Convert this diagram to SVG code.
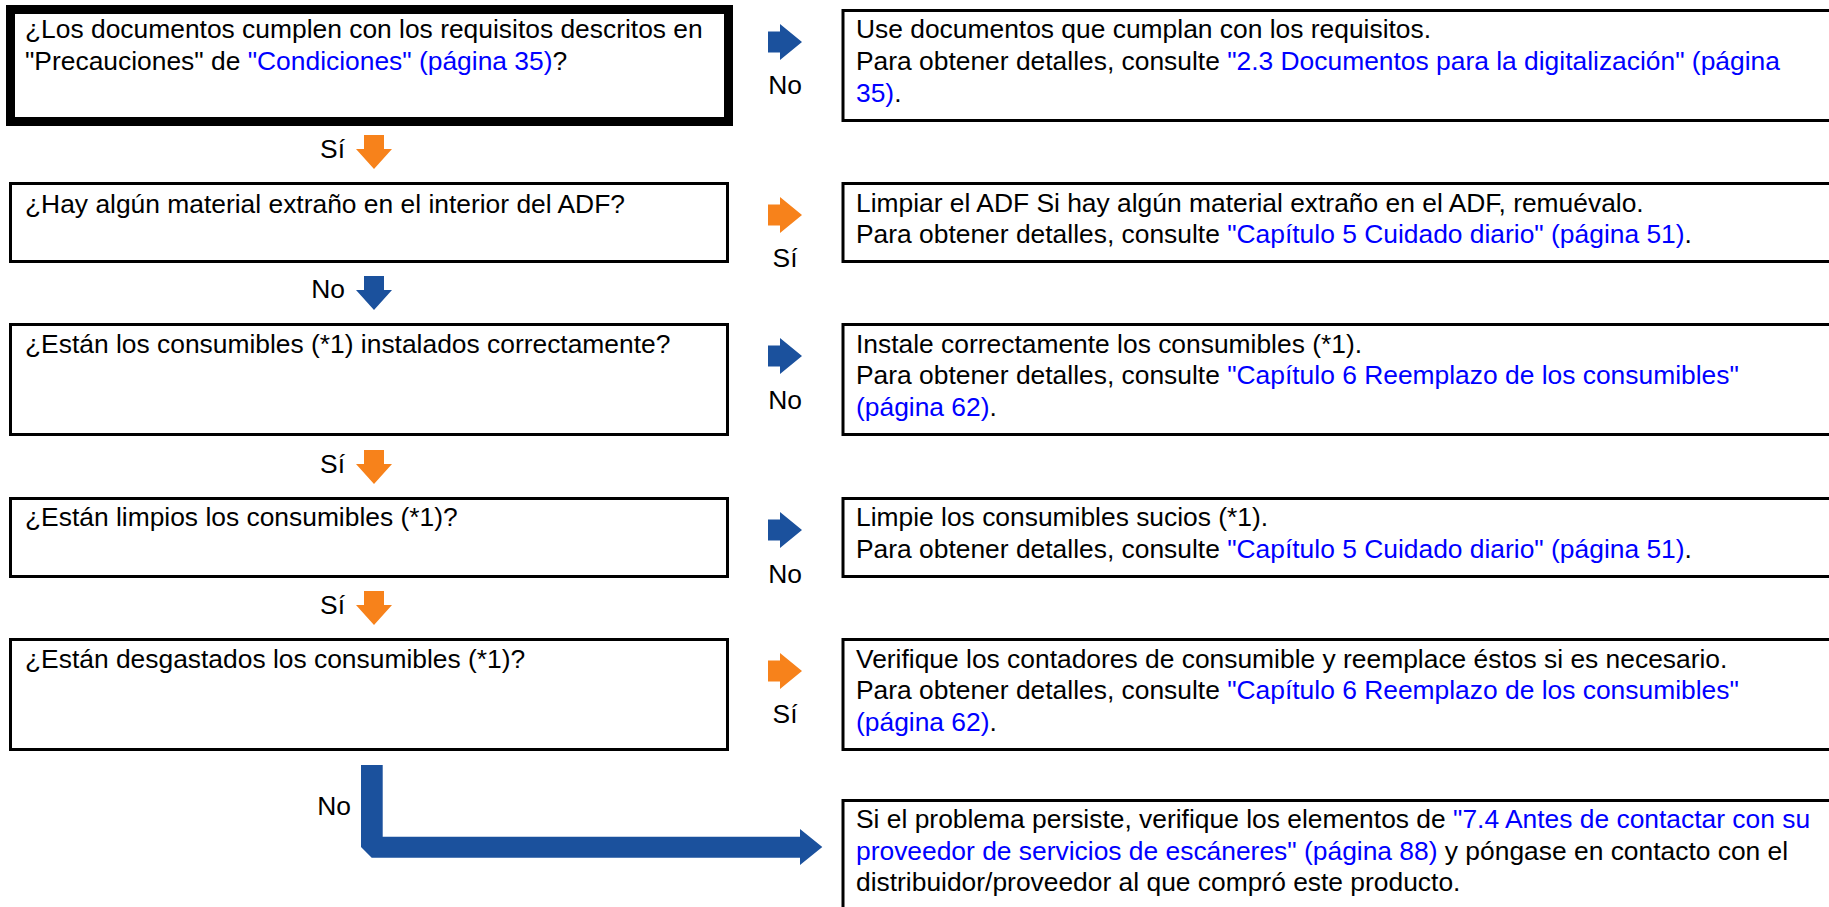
<svg xmlns="http://www.w3.org/2000/svg" width="1829" height="907" viewBox="0 0 1829 907">
<style>
text{font-family:"Liberation Sans",Arial,sans-serif;font-size:26.4px;fill:#000}
.l{fill:#0000ff}
.box{fill:#fff;stroke:#000;stroke-width:3}
.thick{fill:#fff;stroke:#000;stroke-width:9}
.blue{fill:#1b519d}
.orange{fill:#f7821b}
.lab{text-anchor:middle}
.labr{text-anchor:end}
</style>
<defs>
<polygon id="ar" points="0,-10.5 12,-10.5 12,-18 34,0 12,18 12,10.5 0,10.5"/>
<polygon id="ad" points="-10,0 10,0 10,14 18,14 0,34 -18,14 -10,14"/>
</defs>
<rect width="1829" height="907" fill="#fff"/>

<g id="connectors">
<use href="#ar" x="768" y="42" class="blue"/>
<text x="785" y="94" class="lab">No</text>
<use href="#ad" x="374" y="135" class="orange"/>
<text x="345" y="158" class="labr">Sí</text>
<use href="#ar" x="768" y="215" class="orange"/>
<text x="785" y="267" class="lab">Sí</text>
<use href="#ad" x="374" y="276" class="blue"/>
<text x="345" y="298" class="labr">No</text>
<use href="#ar" x="768" y="356" class="blue"/>
<text x="785" y="409" class="lab">No</text>
<use href="#ad" x="374" y="450" class="orange"/>
<text x="345" y="473" class="labr">Sí</text>
<use href="#ar" x="768" y="530" class="blue"/>
<text x="785" y="583" class="lab">No</text>
<use href="#ad" x="374" y="591" class="orange"/>
<text x="345" y="614" class="labr">Sí</text>
<use href="#ar" x="768" y="671" class="orange"/>
<text x="785" y="723" class="lab">Sí</text>
<polygon class="blue" points="361,765 382.7,765 382.7,836.7 800,836.7 800,829 822.3,847 800,865 800,857.7 371.7,857.7 361,847"/>
<text x="351" y="815" class="labr">No</text>
</g>

<g id="q1">
<rect class="thick" x="10.5" y="9.5" width="718" height="112"/>
<text x="25" y="37.5">¿Los documentos cumplen con los requisitos descritos en</text>
<text x="25" y="69.5">"Precauciones" de <tspan class="l">"Condiciones" (página 35)</tspan>?</text>
</g>
<g id="a1">
<rect class="box" x="843" y="10.5" width="1000" height="110"/>
<text x="856" y="37.5">Use documentos que cumplan con los requisitos.</text>
<text x="856" y="69.5">Para obtener detalles, consulte <tspan class="l">"2.3 Documentos para la digitalización" (página</tspan></text>
<text x="856" y="101.5"><tspan class="l">35)</tspan>.</text>
</g>

<g id="q2">
<rect class="box" x="10.5" y="183.5" width="717" height="78"/>
<text x="25" y="212.5">¿Hay algún material extraño en el interior del ADF?</text>
</g>
<g id="a2">
<rect class="box" x="843" y="183.5" width="1000" height="78"/>
<text x="856" y="211.5">Limpiar el ADF Si hay algún material extraño en el ADF, remuévalo.</text>
<text x="856" y="243">Para obtener detalles, consulte <tspan class="l">"Capítulo 5 Cuidado diario" (página 51)</tspan>.</text>
</g>

<g id="q3">
<rect class="box" x="10.5" y="324.5" width="717" height="110"/>
<text x="25" y="352.5">¿Están los consumibles (*1) instalados correctamente?</text>
</g>
<g id="a3">
<rect class="box" x="843" y="324.5" width="1000" height="110"/>
<text x="856" y="352.5">Instale correctamente los consumibles (*1).</text>
<text x="856" y="384">Para obtener detalles, consulte <tspan class="l">"Capítulo 6 Reemplazo de los consumibles"</tspan></text>
<text x="856" y="415.5"><tspan class="l">(página 62)</tspan>.</text>
</g>

<g id="q4">
<rect class="box" x="10.5" y="498.5" width="717" height="78"/>
<text x="25" y="526">¿Están limpios los consumibles (*1)?</text>
</g>
<g id="a4">
<rect class="box" x="843" y="498.5" width="1000" height="78"/>
<text x="856" y="526">Limpie los consumibles sucios (*1).</text>
<text x="856" y="557.5">Para obtener detalles, consulte <tspan class="l">"Capítulo 5 Cuidado diario" (página 51)</tspan>.</text>
</g>

<g id="q5">
<rect class="box" x="10.5" y="639.5" width="717" height="110"/>
<text x="25" y="667.5">¿Están desgastados los consumibles (*1)?</text>
</g>
<g id="a5">
<rect class="box" x="843" y="639.5" width="1000" height="110"/>
<text x="856" y="667.5">Verifique los contadores de consumible y reemplace éstos si es necesario.</text>
<text x="856" y="699">Para obtener detalles, consulte <tspan class="l">"Capítulo 6 Reemplazo de los consumibles"</tspan></text>
<text x="856" y="730.5"><tspan class="l">(página 62)</tspan>.</text>
</g>

<g id="a6">
<rect class="box" x="843" y="800.5" width="1000" height="120"/>
<text x="856" y="828">Si el problema persiste, verifique los elementos de <tspan class="l">"7.4 Antes de contactar con su</tspan></text>
<text x="856" y="859.5"><tspan class="l">proveedor de servicios de escáneres" (página 88)</tspan> y póngase en contacto con el</text>
<text x="856" y="891">distribuidor/proveedor al que compró este producto.</text>
</g>
</svg>
